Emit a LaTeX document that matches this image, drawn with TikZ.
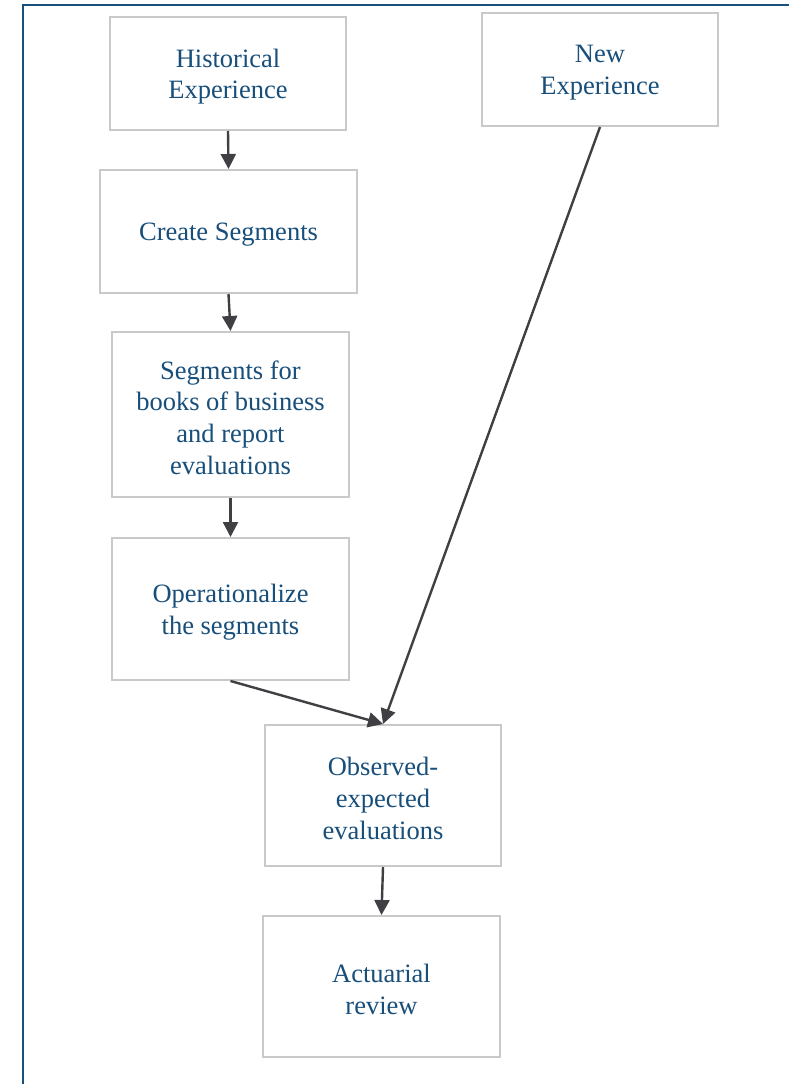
\documentclass[tikz,border=0pt]{standalone}
\usepackage{fontspec}
\setmainfont{Liberation Serif}
\usetikzlibrary{arrows.meta}
\definecolor{txtblue}{RGB}{23,78,122}
\definecolor{framecol}{RGB}{24,80,125}
\definecolor{boxgray}{RGB}{200,202,202}
\definecolor{arrowgray}{RGB}{64,64,68}
\tikzset{
  box/.style={draw=boxgray, line width=2pt, fill=white, inner sep=0pt},
  label/.style={text=txtblue, align=center, inner sep=0pt,
    font=\fontsize{26.5}{31.7}\selectfont},
  flow/.style={draw=arrowgray, line width=2.4pt, -{Triangle[length=15pt,width=15pt]}}
}
\begin{document}
\begin{tikzpicture}[x=1pt,y=-1pt]
\useasboundingbox (0,0) rectangle (789,1084);
\draw[framecol, line width=2pt] (22.5,1084) -- (22.5,5) -- (789,5);
\node[box, minimum width=236pt, minimum height=113pt] (hist) at (228,73.5) {};
\node[box, minimum width=236pt, minimum height=113pt] (new) at (600,69.5) {};
\node[box, minimum width=257pt, minimum height=123pt] (create) at (228.5,231.5) {};
\node[box, minimum width=237pt, minimum height=165pt] (segs) at (230.5,414.5) {};
\node[box, minimum width=237pt, minimum height=142pt] (oper) at (230.5,609) {};
\node[box, minimum width=236pt, minimum height=141pt] (obs) at (383,795.5) {};
\node[box, minimum width=237pt, minimum height=141pt] (act) at (381.5,986.5) {};
\node[label] (histt) at ([yshift=-3pt]hist.center) {Historical\\Experience};
\node[label] (newt) at ([yshift=-3pt]new.center) {New\\Experience};
\node[label] (createt) at ([yshift=-3pt]create.center) {Create Segments};
\node[label] (segst) at ([yshift=-3pt]segs.center) {Segments for\\books of business\\and report\\evaluations};
\node[label] (opert) at ([yshift=-3pt]oper.center) {Operationalize\\the segments};
\node[label] (obst) at ([yshift=-3pt]obs.center) {Observed-\\expected\\evaluations};
\node[label] (actt) at ([yshift=-3pt]act.center) {Actuarial\\review};
\draw[flow] (hist.south) -- (create.north);
\draw[flow] (create.south) -- (segs.north);
\draw[flow] (segs.south) -- (oper.north);
\draw[flow] (oper.south) -- (obs.north);
\draw[flow] (new.south) -- (obs.north);
\draw[flow] (obs.south) -- (act.north);
\end{tikzpicture}
\end{document}
